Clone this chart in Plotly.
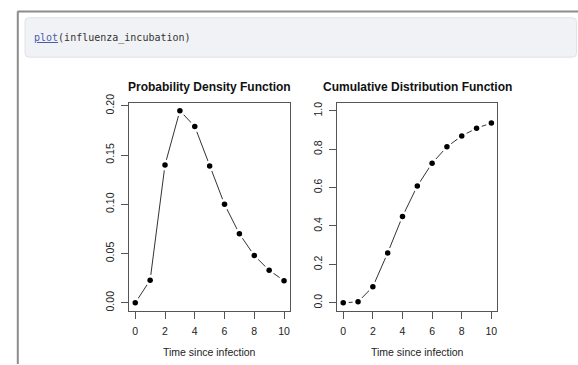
import plotly.graph_objects as go

# ---- data ----
time_days = [0, 1, 2, 3, 4, 5, 6, 7, 8, 9, 10]
pdf_values = [0.000, 0.023, 0.140, 0.195, 0.179, 0.139, 0.100, 0.070, 0.048, 0.033, 0.0225]
cdf_values = [0.000, 0.005, 0.084, 0.260, 0.450, 0.608, 0.727, 0.812, 0.869, 0.909, 0.936]
x_ticks = [0, 2, 4, 6, 8, 10]
pdf_ticks = [0.00, 0.05, 0.10, 0.15, 0.20]
pdf_ticktext = ["0.00", "0.05", "0.10", "0.15", "0.20"]
cdf_ticks = [0.0, 0.2, 0.4, 0.6, 0.8, 1.0]
cdf_ticktext = ["0.0", "0.2", "0.4", "0.6", "0.8", "1.0"]
titles = ["Probability Density Function", "Cumulative Distribution Function"]
x_title = "Time since infection"
code_line = "plot(influenza_incubation)"

W, H = 578, 365
def px(x):
    return x / W
def py(y):
    return 1 - y / H

FONT = "Liberation Sans, Arial, Helvetica, sans-serif"
INK = "#222"
AX = "#555"

fig = go.Figure()

def add_series(xa, ya, xs, ys):
    fig.add_trace(go.Scatter(x=xs, y=ys, mode="lines", line=dict(color="#333", width=1),
                             xaxis=xa, yaxis=ya, hoverinfo="skip", showlegend=False))
    fig.add_trace(go.Scatter(x=xs, y=ys, mode="markers",
                             marker=dict(color="white", size=11, line=dict(width=0)),
                             xaxis=xa, yaxis=ya, hoverinfo="skip", showlegend=False))
    fig.add_trace(go.Scatter(x=xs, y=ys, mode="markers",
                             marker=dict(color="black", size=5.5, line=dict(width=0)),
                             xaxis=xa, yaxis=ya, showlegend=False))

add_series("x", "y", time_days, pdf_values)
add_series("x2", "y2", time_days, cdf_values)

common_x = dict(range=[-0.4, 10.4], tickvals=x_ticks, ticks="outside", ticklen=7,
                tickcolor=AX, showline=True, mirror=True, linecolor=AX, linewidth=1,
                showgrid=False, zeroline=False, ticklabelstandoff=4,
                tickfont=dict(family=FONT, size=10.5, color=INK))
common_y = dict(ticks="outside", ticklen=7, tickcolor=AX, showline=True, mirror=True,
                linecolor=AX, linewidth=1, showgrid=False, zeroline=False,
                tickangle=-90, ticklabelstandoff=3,
                tickfont=dict(family=FONT, size=10.5, color=INK))

y_dom = [py(310), py(96.7)]
fig.update_layout(
    width=W, height=H, margin=dict(l=0, r=0, t=0, b=0),
    paper_bgcolor="white", plot_bgcolor="white",
    xaxis=dict(domain=[px(129.3), px(290)], anchor="y", **common_x),
    yaxis=dict(domain=y_dom, anchor="x", range=[-0.0078, 0.2028],
               tickvals=pdf_ticks, ticktext=pdf_ticktext, **common_y),
    xaxis2=dict(domain=[px(337.3), px(497.3)], anchor="y2", **common_x),
    yaxis2=dict(domain=y_dom, anchor="x2", range=[-0.04, 1.04],
                tickvals=cdf_ticks, ticktext=cdf_ticktext, **common_y),
)

# titles and axis titles
for cx, t in zip([209.7, 417.3], titles):
    fig.add_annotation(x=px(cx), y=py(80), xref="paper", yref="paper", text="<b>" + t + "</b>",
                       showarrow=False, xanchor="center", yanchor="middle",
                       font=dict(family=FONT, size=12, color="#111"))
    fig.add_annotation(x=px(cx), y=py(352.7), xref="paper", yref="paper", text=x_title,
                       showarrow=False, xanchor="center", yanchor="middle",
                       font=dict(family=FONT, size=10.5, color=INK))

# page frame
fig.add_shape(type="line", xref="paper", yref="paper", x0=px(17.5), x1=px(578), y0=py(2.5), y1=py(2.5),
              line=dict(color="#8c8c8c", width=2))
fig.add_shape(type="line", xref="paper", yref="paper", x0=px(17.8), x1=px(17.8), y0=py(2.5), y1=py(365),
              line=dict(color="#8c8c8c", width=2))

# code block (rounded rect)
x0, x1, y0, y1, r = 25, 576.5, 9, 49.5, 4
path = (f"M {px(x0+r)},{py(y0)} L {px(x1-r)},{py(y0)} Q {px(x1)},{py(y0)} {px(x1)},{py(y0+r)} "
        f"L {px(x1)},{py(y1-r)} Q {px(x1)},{py(y1)} {px(x1-r)},{py(y1)} "
        f"L {px(x0+r)},{py(y1)} Q {px(x0)},{py(y1)} {px(x0)},{py(y1-r)} "
        f"L {px(x0)},{py(y0+r)} Q {px(x0)},{py(y0)} {px(x0+r)},{py(y0)} Z")
fig.add_shape(type="path", xref="paper", yref="paper", path=path,
              fillcolor="#f1f2f5", line=dict(color="#dfe2e8", width=1), layer="below")

fn, rest = code_line.split("(", 1)
fig.add_annotation(x=px(31.5), y=py(29.5), xref="paper", yref="paper",
                   text=f"<span style='color:#4a5bb0'><u>{fn}</u></span>({rest}",
                   showarrow=False, xanchor="left", yanchor="middle",
                   font=dict(family="DejaVu Sans Mono, monospace", size=10, color="#333"))

fig.write_html("out.html")
